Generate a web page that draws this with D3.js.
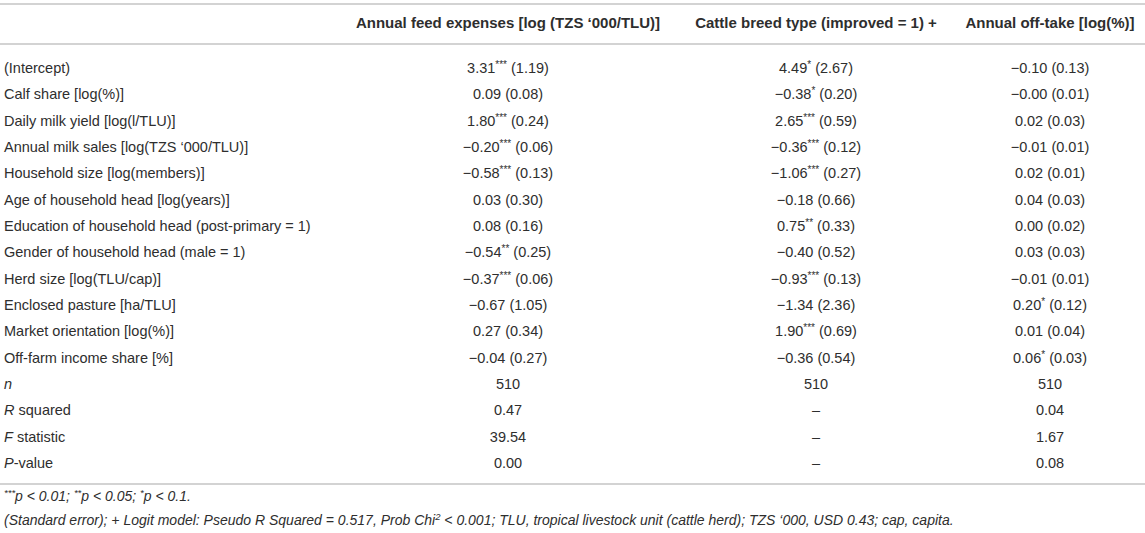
<!DOCTYPE html>
<html>
<head>
<meta charset="utf-8">
<script src="https://cdn.jsdelivr.net/npm/d3@7"></script>
<style>
  body { margin: 0; background: #fff; }
  svg { display: block; font-family: "Liberation Sans", Arial, Helvetica, sans-serif; }
</style>
</head>
<body>
<svg width="1145" height="533"></svg>
<script>
// column headers
const columns = [
  "Annual feed expenses [log (TZS \u2018000/TLU)]",
  "Cattle breed type (improved = 1) +",
  "Annual off-take [log(%)]"
];

// coefficient rows
const rowLabels = [
  "(Intercept)",
  "Calf share [log(%)]",
  "Daily milk yield [log(l/TLU)]",
  "Annual milk sales [log(TZS \u2018000/TLU)]",
  "Household size [log(members)]",
  "Age of household head [log(years)]",
  "Education of household head (post-primary = 1)",
  "Gender of household head (male = 1)",
  "Herd size [log(TLU/cap)]",
  "Enclosed pasture [ha/TLU]",
  "Market orientation [log(%)]",
  "Off-farm income share [%]"
];

// model 1: feed expenses
const feedCoef  = [3.31, 0.09, 1.80, -0.20, -0.58, 0.03, 0.08, -0.54, -0.37, -0.67, 0.27, -0.04];
const feedSE    = [1.19, 0.08, 0.24, 0.06, 0.13, 0.30, 0.16, 0.25, 0.06, 1.05, 0.34, 0.27];
const feedStars = ["***", "", "***", "***", "***", "", "", "**", "***", "", "", ""];

// model 2: breed type (logit)
const breedCoef  = [4.49, -0.38, 2.65, -0.36, -1.06, -0.18, 0.75, -0.40, -0.93, -1.34, 1.90, -0.36];
const breedSE    = [2.67, 0.20, 0.59, 0.12, 0.27, 0.66, 0.33, 0.52, 0.13, 2.36, 0.69, 0.54];
const breedStars = ["*", "*", "***", "***", "***", "", "**", "", "***", "", "***", ""];

// model 3: off-take
const offCoef  = [-0.10, -0, 0.02, -0.01, 0.02, 0.04, 0.00, 0.03, -0.01, 0.20, 0.01, 0.06];
const offSE    = [0.13, 0.01, 0.03, 0.01, 0.01, 0.03, 0.02, 0.03, 0.01, 0.12, 0.04, 0.03];
const offStars = ["", "", "", "", "", "", "", "", "", "*", "", "*"];

// model statistics
const statLabels = [["n", ""], ["R", " squared"], ["F", " statistic"], ["P", "-value"]];
const statN      = [510, 510, 510];
const statR2     = [0.47, null, 0.04];
const statF      = [39.54, null, 1.67];
const statP      = [0.00, null, 0.08];

const footnote1 = [["***", "p < 0.01; "], ["**", "p < 0.05; "], ["*", "p < 0.1."]];
const footnote2a = "(Standard error); + Logit model: Pseudo R Squared = 0.517, Prob Chi";
const footnote2b = " < 0.001; TLU, tropical livestock unit (cattle herd); TZS \u2018000, USD 0.43; cap, capita.";

const TEXT = "#2e2e2e";
const RULE = "#c4c4c4";
const BODY = 14.5;

const svg = d3.select("svg");
const f2 = d3.format(".2f");
function num(v) {
  if (v === null) return "\u2013";
  const neg = v < 0 || Object.is(v, -0);
  return (neg ? "\u2212" : "") + f2(Math.abs(v));
}

// layout scales
const allRows = rowLabels.length + statLabels.length;
const y = d3.scalePoint().domain(d3.range(allRows)).range([68, 463]);
const x = d3.scaleOrdinal().domain([0, 1, 2]).range([508, 816, 1050]);

// rules
[4, 44, 484].forEach(yy => {
  svg.append("line")
    .attr("x1", 0).attr("x2", 1145)
    .attr("y1", yy).attr("y2", yy)
    .attr("stroke", RULE).attr("stroke-width", 1.5);
});

// header
svg.selectAll("text.head")
  .data(columns)
  .join("text")
  .attr("class", "head")
  .attr("x", (d, i) => x(i))
  .attr("y", 23)
  .attr("dy", "0.35em")
  .attr("text-anchor", "middle")
  .attr("font-size", 15)
  .attr("font-weight", "bold")
  .attr("fill", TEXT)
  .text(d => d);

// row labels
svg.selectAll("text.lab")
  .data(rowLabels)
  .join("text")
  .attr("class", "lab")
  .attr("x", 4)
  .attr("y", (d, i) => y(i))
  .attr("dy", "0.35em")
  .attr("font-size", BODY)
  .attr("fill", TEXT)
  .text(d => d);

const statLab = svg.selectAll("text.stat")
  .data(statLabels)
  .join("text")
  .attr("class", "stat")
  .attr("x", 4)
  .attr("y", (d, i) => y(rowLabels.length + i))
  .attr("dy", "0.35em")
  .attr("font-size", BODY)
  .attr("fill", TEXT);
statLab.append("tspan").attr("font-style", "italic").text(d => d[0]);
statLab.append("tspan").text(d => d[1]);

// coefficient cells
const models = [
  [feedCoef, feedSE, feedStars],
  [breedCoef, breedSE, breedStars],
  [offCoef, offSE, offStars]
];
const cells = [];
models.forEach((m, c) => {
  m[0].forEach((v, r) => cells.push({ col: c, row: r, coef: num(v), stars: m[2][r], se: "(" + f2(m[1][r]) + ")" }));
});

const cellText = svg.selectAll("text.cell")
  .data(cells)
  .join("text")
  .attr("class", "cell")
  .attr("x", d => x(d.col))
  .attr("y", d => y(d.row))
  .attr("dy", "0.35em")
  .attr("text-anchor", "middle")
  .attr("font-size", BODY)
  .attr("fill", TEXT);
cellText.append("tspan").text(d => d.coef);
cellText.append("tspan")
  .attr("font-size", 10)
  .attr("dy", d => d.stars ? -5 : 0)
  .text(d => d.stars);
cellText.append("tspan")
  .attr("dy", d => d.stars ? 5 : 0)
  .text(d => " " + d.se);

// statistics cells
const statRows = [
  statN.map(v => String(v)),
  statR2.map(num),
  statF.map(num),
  statP.map(num)
];
statRows.forEach((vals, r) => {
  svg.selectAll("text.sv" + r)
    .data(vals)
    .join("text")
    .attr("class", "sv" + r)
    .attr("x", (d, i) => x(i))
    .attr("y", y(rowLabels.length + r))
    .attr("dy", "0.35em")
    .attr("text-anchor", "middle")
    .attr("font-size", BODY)
    .attr("fill", TEXT)
    .text(d => d);
});

// footnotes
const fn1 = svg.append("text")
  .attr("x", 4).attr("y", 501).attr("dy", "0.35em")
  .attr("font-size", 14).attr("font-style", "italic").attr("fill", TEXT);
footnote1.forEach(p => {
  fn1.append("tspan").attr("font-size", 9.5).attr("dy", -5).text(p[0]);
  fn1.append("tspan").attr("dy", 5).text(p[1]);
});

const fn2 = svg.append("text")
  .attr("x", 4).attr("y", 520).attr("dy", "0.35em")
  .attr("font-size", 14).attr("font-style", "italic").attr("fill", TEXT);
fn2.append("tspan").text(footnote2a);
fn2.append("tspan").attr("font-size", 9.5).attr("dy", -5).text("2");
fn2.append("tspan").attr("dy", 5).text(footnote2b);
</script>
</body>
</html>
